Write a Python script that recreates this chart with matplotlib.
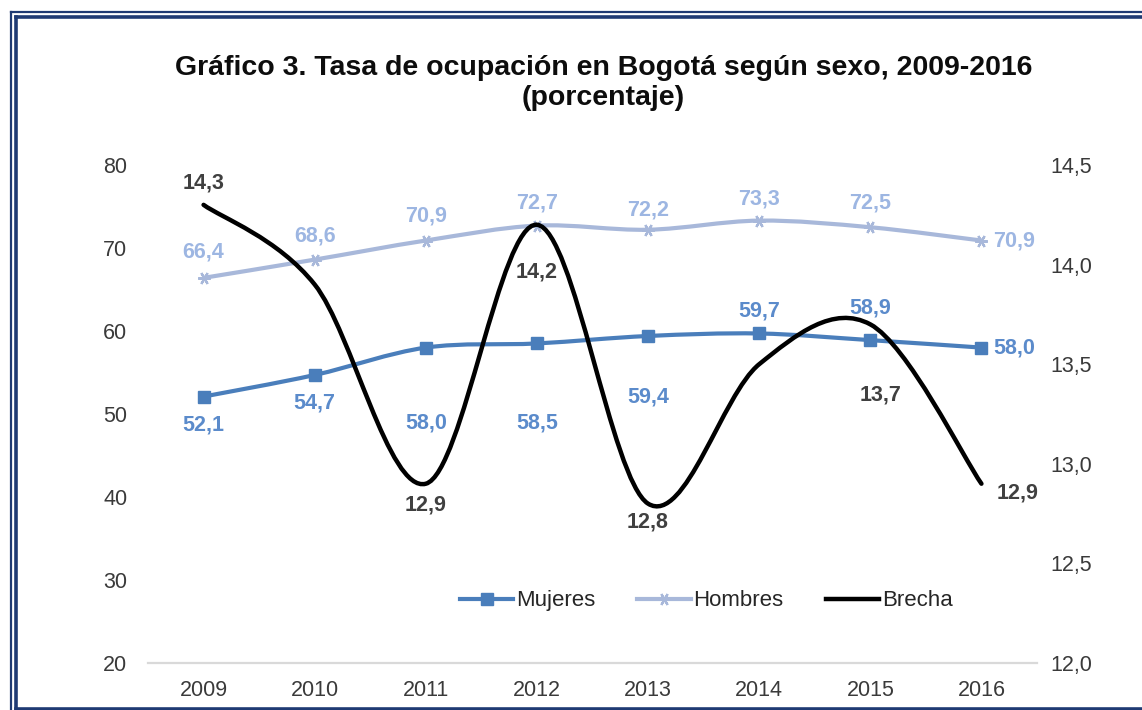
import matplotlib.pyplot as plt
import numpy as np
from matplotlib.path import Path
from matplotlib.patches import PathPatch
from matplotlib.lines import Line2D

plt.rcParams['font.family'] = ['Liberation Sans', 'DejaVu Sans']

# -----------------------------
# Data
# -----------------------------
years = [2009, 2010, 2011, 2012, 2013, 2014, 2015, 2016]
mujeres = [52.1, 54.7, 58.0, 58.5, 59.4, 59.7, 58.9, 58.0]
hombres = [66.4, 68.6, 70.9, 72.7, 72.2, 73.3, 72.5, 70.9]
brecha = [14.3, 13.9, 12.9, 14.2, 12.8, 13.5, 13.7, 12.9]
brecha_labeled = [True, False, True, True, True, False, True, True]

left_ticks = [20, 30, 40, 50, 60, 70, 80]
right_ticks = [12.0, 12.5, 13.0, 13.5, 14.0, 14.5]

# label offsets in pixels (dx, dy) relative to each point
muj_off = [(0, -28), (0, -28), (0, -75), (0, -80), (0, -61), (0, 22), (0, 32), (33, 0)]
hom_off = [(0, 26), (0, 24), (0, 25), (0, 23), (0, 20), (0, 22), (0, 24), (33, 0)]
bre_off = [(0, 22), None, (0, -21), (0, -47), (0, -18), None, (10, -71), (36, -9)]

c_muj = '#4A7EBB'
c_muj_txt = '#5B8BCB'
c_hom = '#A8B8DA'
c_hom_txt = '#9DB6E2'
c_bre = '#000000'
c_bre_txt = '#404040'
c_tick = '#3A3A3A'

FS = 15.5


def fmt(v, nd=1):
    return f"{v:.{nd}f}".replace('.', ',')


def smooth_path(x, y):
    # Excel-style smoothed line: cubic Bezier through every point
    x = np.asarray(x, dtype=float)
    y = np.asarray(y, dtype=float)
    pts = np.column_stack([x, y])
    n = len(pts)
    verts = [pts[0]]
    codes = [Path.MOVETO]
    for i in range(n - 1):
        p0 = pts[i - 1] if i > 0 else pts[i]
        p1 = pts[i]
        p2 = pts[i + 1]
        p3 = pts[i + 2] if i + 2 < n else pts[i + 1]
        c1 = p1 + (p2 - p0) / 6.0
        c2 = p2 - (p3 - p1) / 6.0
        verts += [c1, c2, p2]
        codes += [Path.CURVE4] * 3
    return Path(verts, codes)


fig = plt.figure(figsize=(11.42, 7.10), dpi=100)
ax = fig.add_axes([148 / 1142, 1 - 663 / 710, 889 / 1142, 498 / 710])
ax2 = ax.twinx()

ax.set_xlim(2008.5, 2016.5)
ax.set_ylim(20, 80)
ax2.set_ylim(12.0, 14.5)

# series lines
ax.add_patch(PathPatch(smooth_path(years, hombres), fill=False, edgecolor=c_hom,
                       lw=3.0, capstyle='round', zorder=2))
ax.plot(years, hombres, linestyle='none', marker=(6, 2, 90), markersize=9,
        markeredgecolor=c_hom, markeredgewidth=1.6, zorder=3)
ax.add_patch(PathPatch(smooth_path(years, mujeres), fill=False, edgecolor=c_muj,
                       lw=3.0, capstyle='round', zorder=2))
ax.plot(years, mujeres, linestyle='none', marker='s', markersize=9,
        color=c_muj, zorder=3)
ax2.add_patch(PathPatch(smooth_path(years, brecha), fill=False, edgecolor=c_bre,
                        lw=3.2, capstyle='round', zorder=4))

# data labels
lab_kw = dict(textcoords='offset pixels', fontsize=FS, fontweight='bold',
              va='center', ha='center', zorder=6)
for x, v, (dx, dy) in zip(years, mujeres, muj_off):
    ax.annotate(fmt(v), (x, v), xytext=(dx, dy), color=c_muj_txt, **lab_kw)
for x, v, (dx, dy) in zip(years, hombres, hom_off):
    ax.annotate(fmt(v), (x, v), xytext=(dx, dy), color=c_hom_txt, **lab_kw)
for x, v, off, show in zip(years, brecha, bre_off, brecha_labeled):
    if show:
        ax2.annotate(fmt(v), (x, v), xytext=off, color=c_bre_txt, **lab_kw)

# axes styling
for a in (ax, ax2):
    for s in a.spines.values():
        s.set_visible(False)
ax.spines['bottom'].set_visible(True)
ax.spines['bottom'].set_color('#D9D9D9')
ax.spines['bottom'].set_linewidth(1.6)

ax.set_xticks(years)
ax.set_xticklabels([str(y) for y in years])
ax.set_yticks(left_ticks)
ax.set_yticklabels([str(t) for t in left_ticks])
ax2.set_yticks(right_ticks)
ax2.set_yticklabels([fmt(t) for t in right_ticks])
ax.tick_params(axis='x', length=0, pad=12, labelsize=FS, labelcolor=c_tick)
ax.tick_params(axis='y', length=0, pad=15, labelsize=FS, labelcolor=c_tick)
ax2.tick_params(axis='y', length=0, pad=9.5, labelsize=FS, labelcolor=c_tick)

# legend
handles = [
    Line2D([], [], color=c_muj, lw=3.0, marker='s', markersize=9),
    Line2D([], [], color=c_hom, lw=3.0, marker=(6, 2, 90), markersize=9,
           markeredgewidth=1.6),
    Line2D([], [], color=c_bre, lw=3.2),
]
ax.legend(handles, ['Mujeres', 'Hombres', 'Brecha'], ncol=3, frameon=False,
          loc='center', bbox_to_anchor=(0.628, 0.1245), fontsize=FS + 0.5,
          handlelength=2.4, handletextpad=0.12, columnspacing=1.9,
          labelcolor='#262626')

# title
fig.text(0.5285, 1 - 68 / 710, 'Gráfico 3. Tasa de ocupación en Bogotá según sexo, 2009-2016',
         ha='center', va='center', fontsize=20.5, fontweight='bold', color='#0D0D0D')
fig.text(0.5285, 1 - 98 / 710, '(porcentaje)', ha='center', va='center',
         fontsize=20.5, fontweight='bold', color='#0D0D0D')

# double frame around the chart
navy = '#1F3A73'
W, H = 1142, 710
frame = [
    ([11 / W, 11 / W], [0, 1 - 11.5 / H], 1.6),
    ([11 / W, 1], [1 - 11.5 / H, 1 - 11.5 / H], 1.6),
    ([15.5 / W, 15.5 / W], [0, 1 - 16.5 / H], 2.6),
    ([15.5 / W, 1], [1 - 16.5 / H, 1 - 16.5 / H], 2.6),
    ([15.5 / W, 1], [1.2 / H, 1.2 / H], 2.6),
]
for xs, ys, lw in frame:
    fig.add_artist(Line2D(xs, ys, color=navy, lw=lw, transform=fig.transFigure))

fig.savefig('out.png', dpi=100)
